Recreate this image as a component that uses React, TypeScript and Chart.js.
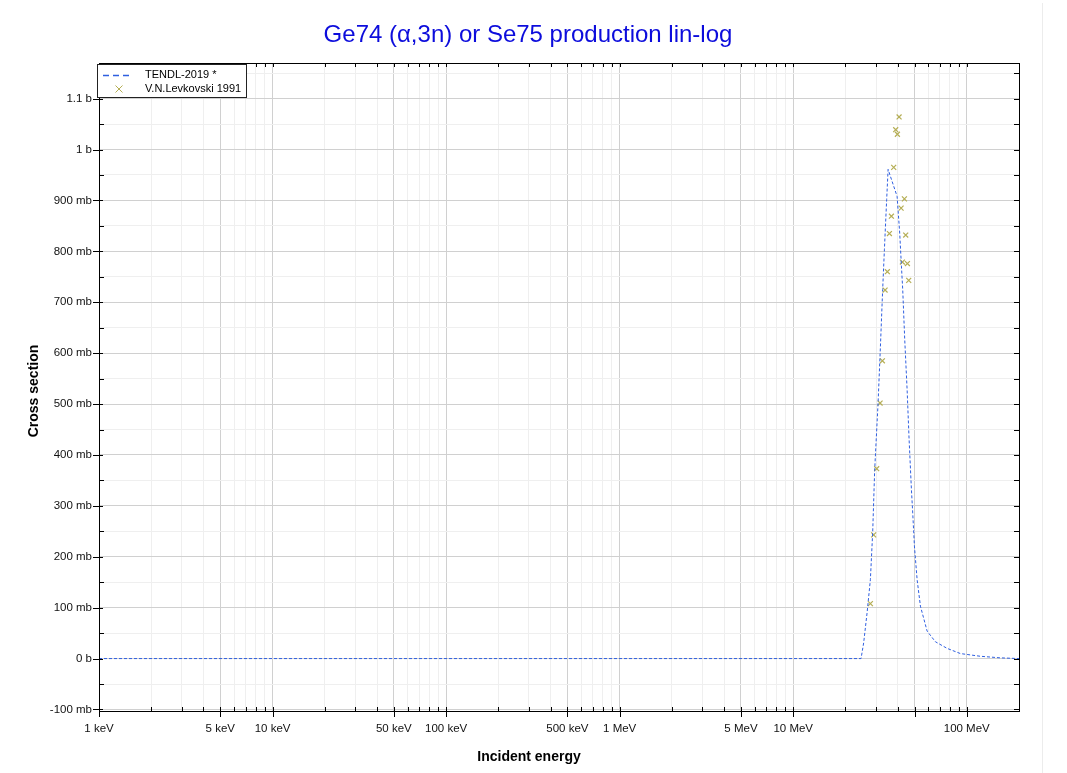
import React, { useEffect, useRef } from 'react';
import { Chart, registerables } from 'chart.js';

Chart.register(...registerables);

// TENDL-2019 evaluated curve (energy in MeV, cross section in barns)
const tendlEnergy = [0.001, 24.6, 25.47, 26.65, 27.84, 28.7, 29.47, 30.83, 31.78, 32.77, 33.53, 34.56, 35.22, 39.68, 41.08, 42.03, 42.76, 43.91, 45.33, 46.54, 47.99, 48.83, 49.94, 51.76, 54.08, 59.1, 65.99, 77.09, 91.99, 119.9, 156.4, 200];
const tendlXs = [0, 0, 0.031, 0.09, 0.155, 0.247, 0.37, 0.502, 0.61, 0.725, 0.803, 0.902, 0.961, 0.908, 0.836, 0.771, 0.725, 0.627, 0.528, 0.43, 0.332, 0.286, 0.221, 0.155, 0.103, 0.054, 0.033, 0.02, 0.0098, 0.0045, 0.0014, 0];

// V.N.Levkovski 1991 experimental points
const levEnergy = [27.85, 29.08, 30.27, 31.67, 32.65, 33.84, 34.88, 35.84, 36.8, 37.93, 38.95, 39.84, 40.75, 41.85, 42.58, 43.73, 44.49, 45.5, 46.3];
const levXs = [0.108, 0.243, 0.373, 0.502, 0.585, 0.724, 0.76, 0.835, 0.869, 0.965, 1.039, 1.03, 1.064, 0.885, 0.779, 0.903, 0.832, 0.776, 0.743];

// Axis tick labels
const xLabelValues = [0.001, 0.005, 0.01, 0.05, 0.1, 0.5, 1, 5, 10, 100];
const xLabelTexts = ['1 keV', '5 keV', '10 keV', '50 keV', '100 keV', '500 keV', '1 MeV', '5 MeV', '10 MeV', '100 MeV'];
const yLabelValues = [-0.1, 0, 0.1, 0.2, 0.3, 0.4, 0.5, 0.6, 0.7, 0.8, 0.9, 1.0, 1.1];
const yLabelTexts = ['-100 mb', '0 b', '100 mb', '200 mb', '300 mb', '400 mb', '500 mb', '600 mb', '700 mb', '800 mb', '900 mb', '1 b', '1.1 b'];

const TITLE = 'Ge74 (α,3n) or Se75 production lin-log';
const X_TITLE = 'Incident energy';
const Y_TITLE = 'Cross section';
const LEGEND_NAMES = ['TENDL-2019 *', 'V.N.Levkovski 1991'];

const X_MIN = 0.001;
const X_MAX = 200;
const Y_MIN = -0.103;
const Y_MAX = 1.17;

const LINE_COLOR = '#2f5fe0';
const MARK_COLOR = '#b5ae55';
const FONT = '"Liberation Sans", Arial, sans-serif';

// grid positions (1..9 per decade)
const xGridValues: number[] = [];
for (let e = -3; e <= 2; e++) {
  for (let m = 1; m <= 9; m++) {
    const v = parseFloat((m * Math.pow(10, e)).toPrecision(6));
    if (v >= X_MIN - 1e-12 && v <= X_MAX + 1e-9) xGridValues.push(v);
  }
}
const yGridValues: number[] = [];
for (let i = -2; i <= 23; i++) yGridValues.push(Math.round(i * 50) / 1000);

const mantissa = (v: number) => Math.round(v / Math.pow(10, Math.floor(Math.log10(v) + 1e-9)));
const isMajorX = (v: number) => {
  const m = mantissa(v);
  return m === 1 || m === 5;
};
const isMajorY = (v: number) => Math.round(v * 1000) % 100 === 0;

const xLabel = (v: number) => {
  const i = xLabelValues.findIndex((lv) => Math.abs(v - lv) / lv < 1e-6);
  return i >= 0 ? xLabelTexts[i] : '';
};
const yLabel = (v: number) => {
  const i = yLabelValues.findIndex((lv) => Math.abs(v - lv) < 1e-6);
  return i >= 0 ? yLabelTexts[i] : '';
};

const decorPlugin = {
  id: 'decor',
  afterDraw(chart: any) {
    const { ctx, chartArea: a, scales } = chart;
    const xs = scales.x;
    const ys = scales.y;
    ctx.save();

    // faint card edge
    ctx.strokeStyle = '#ececec';
    ctx.lineWidth = 1;
    ctx.beginPath();
    ctx.moveTo(1042.5, 3);
    ctx.lineTo(1042.5, 773);
    ctx.stroke();

    // frame
    ctx.strokeStyle = '#000';
    ctx.lineWidth = 1;
    ctx.strokeRect(a.left + 0.5, a.top + 0.5, a.right - a.left, a.bottom - a.top);

    // tick marks
    ctx.beginPath();
    for (const v of xGridValues) {
      const px = Math.round(xs.getPixelForValue(v)) + 0.5;
      const major = isMajorX(v);
      ctx.moveTo(px, a.bottom + (major ? 6 : 0));
      ctx.lineTo(px, a.bottom - 4);
      ctx.moveTo(px, a.top);
      ctx.lineTo(px, a.top + 4);
    }
    for (const v of yGridValues) {
      const py = Math.round(ys.getPixelForValue(v)) + 0.5;
      const major = isMajorY(v);
      ctx.moveTo(a.left - (major ? 6 : 0), py);
      ctx.lineTo(a.left + (major ? 4 : 5), py);
      ctx.moveTo(a.right, py);
      ctx.lineTo(a.right - 5, py);
    }
    ctx.stroke();

    // title
    ctx.fillStyle = 'rgb(12,12,220)';
    ctx.font = `24px ${FONT}`;
    ctx.textAlign = 'center';
    ctx.textBaseline = 'middle';
    ctx.fillText(TITLE, 528, 35);

    // axis titles
    ctx.fillStyle = '#000';
    ctx.font = `bold 14px ${FONT}`;
    ctx.fillText(X_TITLE, 529, 757);
    ctx.save();
    ctx.translate(34, 391);
    ctx.rotate(-Math.PI / 2);
    ctx.fillText(Y_TITLE, 0, 0);
    ctx.restore();

    // legend
    const lx = 97.5, ly = 64.5, lw = 149, lh = 33;
    ctx.fillStyle = '#fff';
    ctx.fillRect(lx, ly, lw, lh);
    ctx.strokeStyle = '#222';
    ctx.lineWidth = 1;
    ctx.strokeRect(lx, ly, lw, lh);
    ctx.strokeStyle = LINE_COLOR;
    ctx.lineWidth = 1.5;
    ctx.setLineDash([6, 4]);
    ctx.beginPath();
    ctx.moveTo(103, 75.5);
    ctx.lineTo(132, 75.5);
    ctx.stroke();
    ctx.setLineDash([]);
    ctx.lineWidth = 1;
    ctx.strokeStyle = MARK_COLOR;
    ctx.beginPath();
    const mx = 119, my = 89, r = 3.5;
    ctx.moveTo(mx - r, my - r);
    ctx.lineTo(mx + r, my + r);
    ctx.moveTo(mx + r, my - r);
    ctx.lineTo(mx - r, my + r);
    ctx.stroke();
    ctx.fillStyle = '#000';
    ctx.font = `11px ${FONT}`;
    ctx.textAlign = 'left';
    ctx.textBaseline = 'middle';
    ctx.fillText(LEGEND_NAMES[0], 145, 75);
    ctx.fillText(LEGEND_NAMES[1], 145, 89);

    ctx.restore();
  },
};

export default function App() {
  const ref = useRef<HTMLCanvasElement>(null);

  useEffect(() => {
    if (!ref.current) return;
    const chart = new Chart(ref.current, {
      type: 'scatter',
      data: {
        datasets: [
          {
            label: LEGEND_NAMES[0],
            data: tendlEnergy.map((e, i) => ({ x: e, y: tendlXs[i] })),
            showLine: true,
            borderColor: LINE_COLOR,
            borderWidth: 1,
            borderDash: [3, 2],
            pointRadius: 0,
            tension: 0,
          },
          {
            label: LEGEND_NAMES[1],
            data: levEnergy.map((e, i) => ({ x: e, y: levXs[i] })),
            showLine: false,
            pointStyle: 'crossRot',
            pointRadius: 3.5,
            borderColor: MARK_COLOR,
            backgroundColor: MARK_COLOR,
            borderWidth: 1.2,
          },
        ],
      },
      options: {
        responsive: false,
        animation: false,
        events: [],
        layout: { padding: { left: 0, top: 63, right: 48, bottom: 0 } },
        plugins: {
          legend: { display: false },
          title: { display: false },
          tooltip: { enabled: false },
        },
        scales: {
          x: {
            type: 'logarithmic',
            min: X_MIN,
            max: X_MAX,
            afterBuildTicks: (s: any) => {
              s.ticks = xGridValues.map((v) => ({ value: v }));
            },
            afterFit: (s: any) => {
              s.height = 62;
            },
            grid: {
              drawTicks: false,
              lineWidth: 1,
              color: (c: any) => (c.tick && isMajorX(c.tick.value) ? '#d0d0d0' : '#efefef'),
            },
            border: { display: false },
            ticks: {
              autoSkip: false,
              maxRotation: 0,
              minRotation: 0,
              padding: 11,
              color: '#111',
              font: { family: FONT, size: 11.5 },
              callback: (v: any) => xLabel(Number(v)),
            },
          },
          y: {
            type: 'linear',
            min: Y_MIN,
            max: Y_MAX,
            afterBuildTicks: (s: any) => {
              s.ticks = yGridValues.map((v) => ({ value: v }));
            },
            afterFit: (s: any) => {
              s.width = 99;
            },
            grid: {
              drawTicks: false,
              lineWidth: 1,
              color: (c: any) => (c.tick && isMajorY(c.tick.value) ? '#d0d0d0' : '#efefef'),
            },
            border: { display: false },
            ticks: {
              autoSkip: false,
              padding: 7,
              color: '#111',
              font: { family: FONT, size: 11.5 },
              callback: (v: any) => yLabel(Number(v)),
            },
          },
        },
      },
      plugins: [decorPlugin],
    } as any);
    return () => chart.destroy();
  }, []);

  return (
    <div style={{ position: 'absolute', left: 0, top: 0, width: 1067, height: 773, background: '#fff' }}>
      <canvas ref={ref} width={1067} height={773} style={{ display: 'block' }} />
    </div>
  );
}
